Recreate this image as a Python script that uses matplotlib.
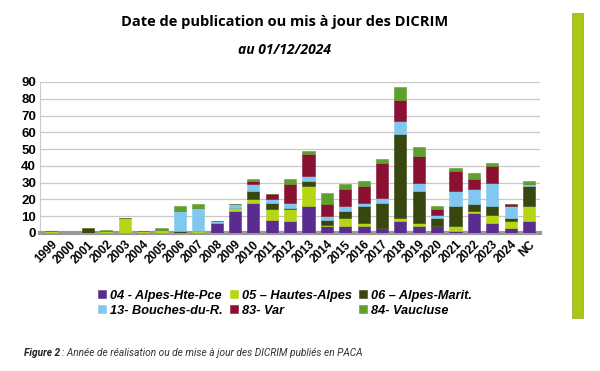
import numpy as np
import matplotlib
matplotlib.use("Agg")
from matplotlib import pyplot as plt
from matplotlib.patches import Rectangle

# =============================================================================

years = ["1999", "2000", "2001", "2002", "2003", "2004", "2005", "2006", "2007",
         "2008", "2009", "2010", "2011", "2012", "2013", "2014", "2015", "2016",
         "2017", "2018", "2019", "2020", "2021", "2022", "2023", "2024", "NC"]

d04 = [0, 0, 0, 0, 0, 0, 0, 0, 0, 6, 13, 18, 8, 7, 16, 4, 4, 4, 3, 7, 4, 4, 1, 12, 6, 3, 7]
d05 = [1, 0, 0, 1, 9, 1, 2, 0, 1, 0, 2, 2, 6, 7, 12, 1, 5, 2, 0, 2, 2, 0, 3, 1, 5, 4, 9]
d06 = [0, 0, 3, 0, 0, 0, 0, 1, 0, 0, 0, 5, 4, 1, 3, 3, 4, 10, 15, 50, 19, 5, 12, 4, 5, 2, 12]
d13 = [0, 0, 0, 0, 0, 0, 0, 12, 14, 1, 2, 4, 2, 3, 3, 2, 3, 2, 3, 8, 5, 2, 9, 9, 14, 7, 1]
d83 = [0, 0, 0, 0, 0, 0, 0, 0, 0, 0, 0, 2, 3, 11, 13, 7, 10, 10, 21, 12, 16, 3, 12, 6, 10, 1, 0]
d84 = [0, 0, 0, 1, 0, 0, 1, 3, 2, 0, 0, 1, 0, 3, 2, 7, 3, 3, 2, 8, 5, 2, 2, 4, 2, 0, 2]

series = [
	("04 - Alpes-Hte-Pce",     d04, "#5b2c8f"),
	("05 \u2013 Hautes-Alpes", d05, "#b6d614"),
	("06 \u2013 Alpes-Marit.", d06, "#37470f"),
	("13- Bouches-du-R.",      d13, "#80c8f0"),
	("83- Var",                d83, "#8a1131"),
	("84- Vaucluse",           d84, "#5ea02e"),
]

# =============================================================================

plt.rcParams['font.family'] = ['Liberation Sans', 'DejaVu Sans']

fig = plt.figure(figsize=(6, 3.71), dpi=100)
ax  = fig.add_axes([0.067, 0.372, 0.833, 0.407])

x      = np.arange(len(years))
bottom = np.zeros(len(years))
for label, vals, col in series:
	vals = np.array(vals, dtype=float)
	ax.bar(x, vals, 0.66, bottom=bottom, color=col, label=label,
	       edgecolor=col, linewidth=0.4, zorder=3)
	bottom += vals

ax.set_xlim(-0.6, 26.6)
ax.set_ylim(0, 90)
ax.set_yticks(range(0, 91, 10))
ax.set_xticks(x)
ax.set_xticklabels(years, rotation=45, ha='right', rotation_mode='anchor',
                   fontsize=8.5, fontweight='bold')
for t in ax.get_yticklabels():
	t.set_fontsize(9.5)
	t.set_fontweight('bold')
ax.tick_params(axis='both', length=0, pad=3)
ax.tick_params(axis='x', pad=4)

ax.grid(axis='y', color='#c8c8c8', linewidth=0.9, zorder=0)
for s in ['top', 'right']:
	ax.spines[s].set_visible(False)
ax.spines['left'  ].set_color('#cccccc')
ax.spines['bottom'].set_color('#999999')
ax.spines['bottom'].set_linewidth(3)

fig.text(0.475, 0.94, "Date de publication ou mis à jour des DICRIM",
         ha='center', va='center', fontsize=10.5, fontweight='bold',
         family=['Open Sans', 'DejaVu Sans'])
fig.text(0.475, 0.865, "au 01/12/2024", ha='center', va='center',
         fontsize=10, fontweight='bold', style='italic',
         family=['Open Sans', 'DejaVu Sans'])

handles, labels = ax.get_legend_handles_labels()
order = [0, 3, 1, 4, 2, 5]
leg = fig.legend([handles[i] for i in order], [labels[i] for i in order],
                 loc='center', bbox_to_anchor=(0.475, 0.183), ncol=3,
                 frameon=False, handlelength=0.6, handleheight=0.6,
                 handletextpad=0.3, columnspacing=0.6, labelspacing=0.25,
                 prop={'size': 9.2, 'weight': 'bold', 'style': 'italic'})

fig.text(0.04, 0.048, "Figure 2", fontsize=7.3, va='center', color='#222222',
         fontweight='bold', style='italic', family=['Roboto', 'DejaVu Sans'])
fig.text(0.103, 0.048, ": Année de réalisation ou de mise à jour des DICRIM publiés en PACA",
         fontsize=7.3, style='italic', va='center', color='#333333',
         family=['Roboto', 'DejaVu Sans'])

fig.patches.append(Rectangle((0.953, 0.143), 0.019, 0.822, transform=fig.transFigure,
                             facecolor='#a9c814', edgecolor='#8fa838', linewidth=0.5))

plt.savefig("out.png", dpi=100)
